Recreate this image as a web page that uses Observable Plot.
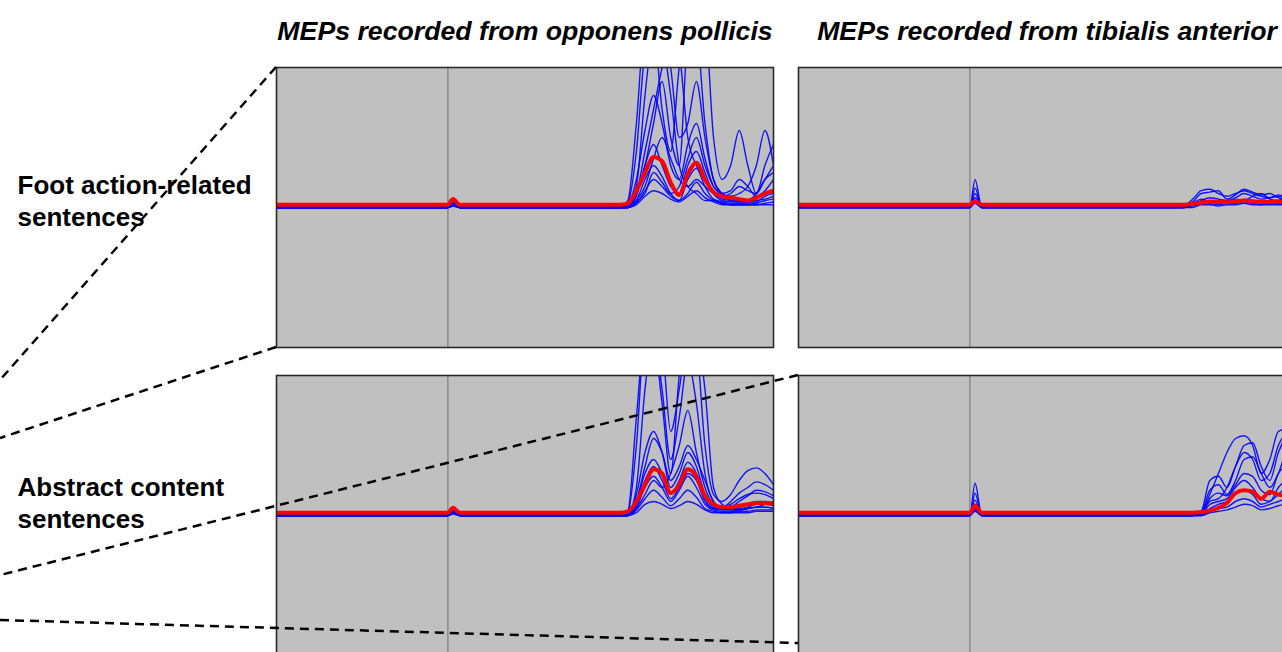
<!DOCTYPE html>
<html><head><meta charset="utf-8">
<script src="https://cdn.jsdelivr.net/npm/d3@7"></script>
<script src="https://cdn.jsdelivr.net/npm/@observablehq/plot@0.6"></script>
<style>html,body{margin:0;padding:0;background:#fff;overflow:hidden}</style>
</head><body><div id="chart"></div>
<script>
// ---- data ----
const muscles = ["MEPs recorded from opponens pollicis", "MEPs recorded from tibialis anterior"];
const rows = ["Foot action-related\nsentences", "Abstract content\nsentences"];
// time (ms) relative to stimulus; baseline + artifact samples, then response samples
const preTimes = [-20, 0, 0.6, 1.4];
const respTimes = [20, 21, 22, 23, 24, 25, 26, 27, 28, 29, 30, 31, 32, 33, 34, 35, 36, 37, 38];
// each trace: [artifact peak, ...values at respTimes]
const opFootBlue = [
  [0.03, 0,0.05,0.6,1.3,1.3,1.2,0.8,0.3,0.15,0.1,0.05,0.05,0.03,0.02,0.02,0.02,0.02,0.02,0.02],
  [0.02, 0,0.03,0.4,1.1,1.25,0.7,0.4,1.0,1.3,1.25,0.6,0.2,0.1,0.05,0.05,0.05,0.08,0.1,0.12],
  [0.04, 0,0,0.1,0.3,0.6,0.9,0.5,0.3,1.2,1.3,1.3,0.5,0.2,0.3,0.55,0.3,0.1,0.2,0.3],
  [0.02, 0,0,0.15,0.8,1.25,1.3,1.0,0.5,0.6,0.9,0.5,0.2,0.1,0.08,0.1,0.15,0.3,0.55,0.3],
  [0.03, 0,0.02,0.2,0.55,0.8,0.6,0.3,0.2,0.45,0.6,0.35,0.15,0.1,0.06,0.05,0.05,0.1,0.2,0.25],
  [0.02, 0,0,0.08,0.3,0.45,0.3,0.15,0.1,0.3,0.4,0.25,0.1,0.05,0.04,0.04,0.04,0.06,0.1,0.12],
  [0.01, 0,0,0.05,0.2,0.3,0.22,0.1,0.05,0.2,0.28,0.15,0.06,0.04,0.03,0.03,0.03,0.04,0.08,0.1],
  [0.02, 0,0,0.03,0.12,0.2,0.15,0.08,0.05,0.1,0.18,0.1,0.05,0.03,0.02,0.02,0.02,0.03,0.05,0.06],
  [0.03, 0,0.01,0.1,0.4,0.7,1.0,1.25,1.1,0.5,0.3,0.2,0.1,0.06,0.05,0.04,0.04,0.05,0.06,0.08],
  [0.01, 0,0,0.02,0.08,0.12,0.1,0.06,0.04,0.08,0.12,0.07,0.04,0.02,0.02,0.02,0.02,0.02,0.03,0.04],
  [0.02, 0,0,0.05,0.15,0.35,0.5,0.35,0.2,0.15,0.2,0.15,0.1,0.08,0.1,0.15,0.12,0.1,0.3,0.45],
  [0.03, 0,0,0.04,0.1,0.25,0.18,0.1,0.15,0.35,0.5,0.3,0.15,0.1,0.12,0.2,0.15,0.08,0.12,0.2]
];
const opFootRed = [0.06, 0.02,0.03,0.12,0.25,0.36,0.33,0.18,0.09,0.24,0.32,0.2,0.11,0.08,0.07,0.06,0.05,0.07,0.1,0.12];

const taFootBlue = [
  [0.2, 0,0,0,0,0,0.01,0.06,0.12,0.13,0.1,0.08,0.1,0.12,0.1,0.08,0.07,0.08,0.06,0.05],
  [0.14, 0,0,0,0,0,0,0.04,0.1,0.11,0.12,0.06,0.09,0.13,0.11,0.09,0.1,0.07,0.05,0.06],
  [0.1, 0,0,0,0,0,0,0.02,0.05,0.07,0.06,0.05,0.07,0.1,0.08,0.06,0.07,0.09,0.07,0.05],
  [0.07, 0,0,0,0,0,0,0.03,0.06,0.04,0.05,0.04,0.06,0.05,0.08,0.1,0.06,0.05,0.08,0.04],
  [0.05, 0,0,0,0,0,0,0.01,0.03,0.05,0.04,0.03,0.04,0.06,0.05,0.04,0.03,0.05,0.04,0.03],
  [0.04, 0,0,0,0,0,0,0.02,0.04,0.03,0.02,0.03,0.03,0.04,0.03,0.02,0.03,0.03,0.02,0.02],
  [0.03, 0,0,0,0,0,0,0,0.02,0.02,0.01,0.02,0.02,0.03,0.02,0.02,0.02,0.02,0.02,0.01]
];
const taFootRed = [0.045, 0.02,0.02,0.02,0.02,0.02,0.02,0.025,0.035,0.042,0.04,0.038,0.045,0.05,0.045,0.04,0.04,0.042,0.038,0.035];

const opAbsBlue = [
  [0.04, 0,0.02,0.5,1.3,1.3,1.2,0.6,0.9,1.3,1.3,0.9,0.2,0.08,0.05,0.04,0.05,0.06,0.08,0.1],
  [0.03, 0,0.03,0.7,1.3,1.25,0.8,0.3,1.0,1.3,1.2,0.5,0.15,0.1,0.15,0.25,0.32,0.34,0.3,0.22],
  [0.05, 0,0.01,0.2,0.9,1.3,0.9,0.4,0.7,1.1,0.8,0.3,0.1,0.06,0.1,0.16,0.2,0.24,0.22,0.18],
  [0.03, 0,0,0.15,0.45,0.6,0.45,0.2,0.3,0.45,0.35,0.15,0.06,0.05,0.06,0.1,0.14,0.18,0.17,0.14],
  [0.02, 0,0,0.1,0.3,0.4,0.3,0.15,0.25,0.38,0.3,0.12,0.05,0.04,0.05,0.06,0.08,0.1,0.1,0.09],
  [0.03, 0,0,0.06,0.2,0.28,0.2,0.1,0.18,0.28,0.2,0.08,0.04,0.03,0.03,0.04,0.05,0.06,0.06,0.05],
  [0.02, 0,0,0.04,0.12,0.18,0.13,0.07,0.12,0.18,0.13,0.05,0.03,0.02,0.02,0.03,0.03,0.04,0.04,0.04],
  [0.01, 0,0,0.02,0.08,0.1,0.08,0.05,0.07,0.1,0.08,0.04,0.02,0.02,0.02,0.02,0.02,0.03,0.03,0.03],
  [0.03, 0,0,0.1,0.35,0.55,0.45,0.25,0.35,0.5,0.4,0.25,0.1,0.05,0.05,0.05,0.06,0.08,0.08,0.07],
  [0.02, 0,0,0.05,0.15,0.25,0.2,0.3,0.5,0.75,0.45,0.2,0.08,0.05,0.04,0.04,0.05,0.06,0.06,0.05],
  [0.04, 0,0,0.08,0.25,0.35,0.25,0.12,0.2,0.3,0.25,0.1,0.05,0.06,0.08,0.12,0.15,0.16,0.15,0.12]
];
const opAbsRed = [0.055, 0.02,0.03,0.1,0.22,0.33,0.3,0.16,0.22,0.33,0.28,0.14,0.08,0.06,0.06,0.07,0.08,0.09,0.09,0.085];

const taAbsBlue = [
  [0.23, 0,0,0,0,0,0,0,0.02,0.15,0.3,0.45,0.55,0.57,0.5,0.3,0.4,0.6,0.62,0.5],
  [0.16, 0,0,0,0,0,0,0,0.03,0.25,0.28,0.2,0.35,0.5,0.52,0.35,0.25,0.45,0.55,0.45],
  [0.11, 0,0,0,0,0,0,0,0.02,0.18,0.22,0.15,0.25,0.4,0.42,0.3,0.2,0.3,0.45,0.4],
  [0.08, 0,0,0,0,0,0,0,0.01,0.12,0.16,0.14,0.22,0.3,0.28,0.18,0.15,0.3,0.35,0.3],
  [0.06, 0,0,0,0,0,0,0,0.01,0.08,0.1,0.12,0.2,0.25,0.2,0.12,0.1,0.2,0.25,0.2],
  [0.05, 0,0,0,0,0,0,0,0,0.05,0.08,0.1,0.15,0.18,0.15,0.08,0.1,0.15,0.2,0.16],
  [0.04, 0,0,0,0,0,0,0,0,0.03,0.05,0.06,0.1,0.12,0.1,0.06,0.08,0.1,0.12,0.1],
  [0.03, 0,0,0,0,0,0,0,0,0.02,0.03,0.04,0.06,0.08,0.07,0.04,0.05,0.07,0.08,0.07],
  [0.05, 0,0,0,0,0,0,0,0.02,0.1,0.12,0.2,0.35,0.45,0.4,0.25,0.3,0.5,0.58,0.4]
];
const taAbsRed = [0.07, 0.02,0.02,0.02,0.02,0.02,0.02,0.02,0.025,0.035,0.055,0.09,0.16,0.18,0.17,0.12,0.17,0.15,0.14,0.13];

// ---- build tables ----
const panels = [
  {muscle: muscles[0], row: rows[0], blue: opFootBlue, red: opFootRed},
  {muscle: muscles[1], row: rows[0], blue: taFootBlue, red: taFootRed},
  {muscle: muscles[0], row: rows[1], blue: opAbsBlue, red: opAbsRed},
  {muscle: muscles[1], row: rows[1], blue: taAbsBlue, red: taAbsRed}
];
function toPoints(values, muscle, row, id) {
  const [art, ...resp] = values;
  const base = resp[0];
  const pre = [base, base, art, base];
  return [
    ...preTimes.map((t, i) => ({t, v: pre[i], muscle, row, id})),
    ...respTimes.map((t, i) => ({t, v: resp[i], muscle, row, id}))
  ];
}
const blueData = [], redData = [];
panels.forEach((p, pi) => {
  p.blue.forEach((tr, k) => blueData.push(...toPoints(tr, p.muscle, p.row, `b${pi}-${k}`)));
  redData.push(...toPoints(p.red, p.muscle, p.row, `r${pi}`));
});

const font = "'Liberation Sans', Arial, Helvetica, sans-serif";
const plot = Plot.plot({
  width: 1282, height: 652,
  marginTop: 66, marginLeft: 276, marginRight: -13, marginBottom: -4,
  style: {fontFamily: font, background: "#ffffff", color: "#000"},
  fx: {domain: muscles, paddingInner: 0.0479, paddingOuter: 0, axis: null, label: null},
  fy: {domain: rows, paddingInner: 0.0906, paddingOuter: 0, axis: null, label: null},
  x: {domain: [-20, 38], axis: null},
  y: {domain: [-1, 1], axis: null},
  marks: [
    Plot.frame({fill: "#c0c0c0"}),
    Plot.ruleX([0], {stroke: "#8e8e8e", strokeWidth: 1.6}),
    Plot.line(blueData, {x: "t", y: "v", z: "id", fx: "muscle", fy: "row", stroke: "#0000ff",
      strokeWidth: 1.4, strokeOpacity: 0.9, curve: "monotone-x", clip: true}),
    Plot.line(redData, {x: "t", y: "v", z: "id", fx: "muscle", fy: "row", stroke: "#ff0000",
      strokeWidth: 4, curve: "monotone-x", clip: true}),
    Plot.frame({stroke: "#2a2a2a", strokeWidth: 1.6}),
    Plot.axisFx({anchor: "top", tickSize: 0, tickPadding: 28, fontSize: 26.7, fontWeight: "bold",
      fontStyle: "italic", fill: "#000", label: null}),
    Plot.text([rows[0]], {fx: () => muscles[0], fy: d => d, text: d => d, frameAnchor: "left",
      textAnchor: "start", dx: -259, dy: -8, lineHeight: 1.23, fontSize: 26, fontWeight: "bold", fill: "#000"}),
    Plot.text([rows[1]], {fx: () => muscles[0], fy: d => d, text: d => d, frameAnchor: "left",
      textAnchor: "start", dx: -259, dy: -14, lineHeight: 1.23, fontSize: 26, fontWeight: "bold", fill: "#000"})
  ]
});
document.getElementById("chart").appendChild(plot);

// ---- zoom-guide dashed lines, anchored to the panel corners from the facet scales ----
function band(s, v) {
  if (typeof s.apply === "function" && s.bandwidth != null) {
    const a = s.apply(v); return [a, a + s.bandwidth];
  }
  const b = d3.scaleBand(s.domain, s.range)
    .paddingInner(s.paddingInner ?? s.padding ?? 0)
    .paddingOuter(s.paddingOuter ?? 0)
    .align(s.align ?? 0.5);
  return [b(v), b(v) + b.bandwidth()];
}
const fxS = plot.scale("fx"), fyS = plot.scale("fy");
const [leftX0] = band(fxS, muscles[0]);
const [rightX0] = band(fxS, muscles[1]);
const [topY0, topY1] = band(fyS, rows[0]);
const [botY0] = band(fyS, rows[1]);
const guides = [
  [leftX0, topY0, 0, 380],
  [leftX0, topY1, 0, 438],
  [rightX0, botY0, 0, 575],
  [0, 620, rightX0, 643]
];
d3.select(plot).append("g")
  .attr("stroke", "#000").attr("stroke-width", 2.5).attr("stroke-dasharray", "9,6").attr("fill", "none")
  .selectAll("line").data(guides).join("line")
  .attr("x1", d => d[0]).attr("y1", d => d[1]).attr("x2", d => d[2]).attr("y2", d => d[3]);
</script></body></html>
